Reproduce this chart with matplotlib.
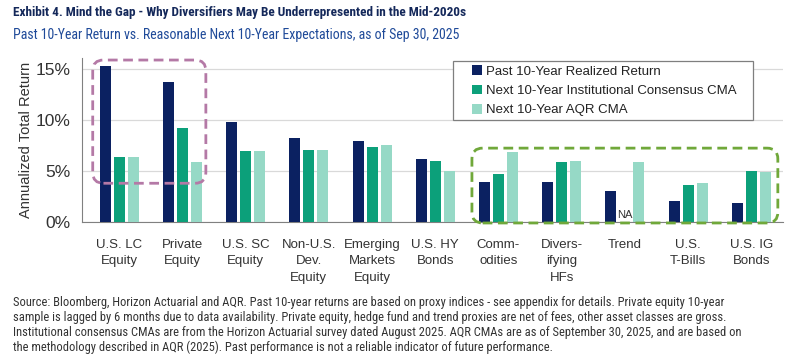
import matplotlib
matplotlib.use("Agg")
import matplotlib.pyplot as plt
from matplotlib.patches import FancyBboxPatch, Patch, Rectangle
from matplotlib import font_manager as fm
import numpy as np

categories = ["U.S. LC\nEquity", "Private\nEquity", "U.S. SC\nEquity", "Non-U.S.\nDev.\nEquity",
              "Emerging\nMarkets\nEquity", "U.S. HY\nBonds", "Comm-\nodities", "Divers-\nifying\nHFs",
              "Trend", "U.S.\nT-Bills", "U.S. IG\nBonds"]
past_realized = [15.3, 13.75, 9.8, 8.2, 7.95, 6.15, 3.95, 3.93, 3.0, 2.05, 1.85]
inst_consensus = [6.4, 9.2, 6.95, 7.05, 7.4, 5.95, 4.7, 5.9, np.nan, 3.6, 5.0]
aqr_cma = [6.4, 5.85, 7.0, 7.1, 7.6, 5.0, 6.85, 6.0, 5.85, 3.85, 4.9]
series_names = ["Past 10-Year Realized Return", "Next 10-Year Institutional Consensus CMA",
                "Next 10-Year AQR CMA"]
yticks = [0, 5, 10, 15]
ytick_labels = ["0%", "5%", "10%", "15%"]

colors = ["#0B2161", "#0CA07A", "#96D9C6"]
navy_title = "#14285A"
sub_blue = "#1F4A99"

regular = ["Liberation Sans", "DejaVu Sans"]

_wmap = {"ultralight": 200, "light": 300, "normal": 400, "regular": 400, "book": 400,
         "medium": 500, "semibold": 600, "demibold": 600, "bold": 700, "heavy": 800, "black": 900}


def _w(v):
    try:
        return int(v)
    except (TypeError, ValueError):
        return _wmap.get(str(v).lower(), 400)


def pick_font(prefs, weight):
    for name, stretch in prefs:
        cands = [f for f in fm.fontManager.ttflist
                 if f.name == name and f.style == "normal"
                 and (stretch is None or str(f.stretch) == stretch)]
        if cands:
            best = min(cands, key=lambda f: abs(_w(f.weight) - weight))
            return fm.FontProperties(fname=best.fname)
    return None


cond_prefs = [("Roboto Condensed", None), ("Liberation Sans Narrow", None),
              ("Open Sans Condensed", None), ("DejaVu Sans", "condensed")]
fp_title = pick_font(cond_prefs, 700) or fm.FontProperties(family=regular, weight="bold")
fp_sub = pick_font(cond_prefs, 400) or fm.FontProperties(family=regular)
fp_foot = pick_font(cond_prefs, 400) or fm.FontProperties(family=regular)

fig = plt.figure(figsize=(7.92, 3.58), dpi=100)
ax = fig.add_axes([0.1035, 0.380, 0.885, 0.458])

x = np.arange(len(categories))
w = 0.175
step = 0.222
for i, (vals, c) in enumerate(zip([past_realized, inst_consensus, aqr_cma], colors)):
    ax.bar(x + (i - 1) * step, vals, width=w, color=c, zorder=3, label=series_names[i])

ax.set_xlim(-0.59, 10.5)
ax.set_ylim(0, 16.1)
ax.set_yticks(yticks)
ax.set_yticklabels(ytick_labels, fontsize=12.5, color="#333333", family=regular)
ax.set_xticks(x)
ax.set_xticklabels(categories, fontsize=9.5, color="#333333", family=regular, linespacing=1.5,
                   va="top")
ax.tick_params(axis="both", length=0)
ax.tick_params(axis="x", pad=12)
ax.tick_params(axis="y", pad=8)
ax.grid(axis="y", color="#D9D9D9", linewidth=0.9, zorder=0)
for s in ["top", "right"]:
    ax.spines[s].set_visible(False)
ax.spines["left"].set_color("#808080")
ax.spines["bottom"].set_color("#808080")
ax.set_ylabel("Annualized Total Return", fontsize=10.5, color="#333333", family=regular, labelpad=2)

# NA label for missing Trend consensus
trend_idx = categories.index("Trend")
ax.text(trend_idx, 0.15, "NA", fontsize=8, color="#333333", ha="center", va="bottom",
        family=regular, zorder=4)

# dashed rounded highlight boxes
aspect = (1 / 10.2) / (1 / 63.2)
box1 = FancyBboxPatch((-0.42, 3.8), 1.79, 12.1,
                      boxstyle="round,pad=0,rounding_size=0.17", mutation_aspect=aspect,
                      fill=False, edgecolor="#B479A6", linestyle=(0, (3.5, 2)), linewidth=2,
                      transform=ax.transData, clip_on=False, zorder=5)
box2 = FancyBboxPatch((5.58, -0.1), 4.84, 7.35,
                      boxstyle="round,pad=0,rounding_size=0.17", mutation_aspect=aspect,
                      fill=False, edgecolor="#70A83A", linestyle=(0, (3.5, 2)), linewidth=2,
                      transform=ax.transData, clip_on=False, zorder=5)
ax.add_patch(box1)
ax.add_patch(box2)

# legend with a separately drawn frame
handles = [Patch(facecolor=c, edgecolor="none") for c in colors]
leg = ax.legend(handles, series_names, loc="upper left", bbox_to_anchor=(0.556, 0.955),
                frameon=False, handlelength=0.75, handleheight=0.75,
                handletextpad=0.35, labelspacing=0.52, borderpad=0, borderaxespad=0,
                prop={"family": regular, "size": 9.5})
for t in leg.get_texts():
    t.set_color("#222222")
ax.add_patch(Rectangle((0.529, 0.622), 0.428, 0.36, transform=ax.transAxes, fill=True,
                       facecolor="white", edgecolor="#7F7F7F", linewidth=0.9, zorder=6,
                       clip_on=False))
leg.set_zorder(7)

title = fig.text(0.0165, 0.966, "Exhibit 4. Mind the Gap - Why Diversifiers May Be Underrepresented in the Mid-2020s",
                 fontproperties=fp_title, fontsize=13, color=navy_title, va="center", ha="left")
sub = fig.text(0.0165, 0.902, "Past 10-Year Return vs. Reasonable Next 10-Year Expectations, as of Sep 30, 2025",
               fontproperties=fp_sub, fontsize=13, color=sub_blue, va="center", ha="left")

footnote = ("Source: Bloomberg, Horizon Actuarial and AQR. Past 10-year returns are based on proxy indices - see appendix for details. Private equity 10-year\n"
            "sample is lagged by 6 months due to data availability. Private equity, hedge fund and trend proxies are net of fees, other asset classes are gross.\n"
            "Institutional consensus CMAs are from the Horizon Actuarial survey dated August 2025. AQR CMAs are as of September 30, 2025, and are based on\n"
            "the methodology described in AQR (2025). Past performance is not a reliable indicator of future performance.")
foot = fig.text(0.0165, 0.172, footnote, fontproperties=fp_foot, fontsize=9, color="#333333",
                va="top", ha="left", linespacing=1.18)

# fit text widths to the reference layout (with a readable floor)
fig.canvas.draw()
renderer = fig.canvas.get_renderer()


def fit(t, target_px, minsize, maxsize):
    bb = t.get_window_extent(renderer)
    size = t.get_fontsize() * target_px / bb.width
    t.set_fontsize(max(min(size, maxsize), minsize))


fit(title, 455, 9.5, 13)
fit(sub, 447, 10, 13)
fit(foot, 750, 7, 9)

fig.savefig("out.png", dpi=100)
